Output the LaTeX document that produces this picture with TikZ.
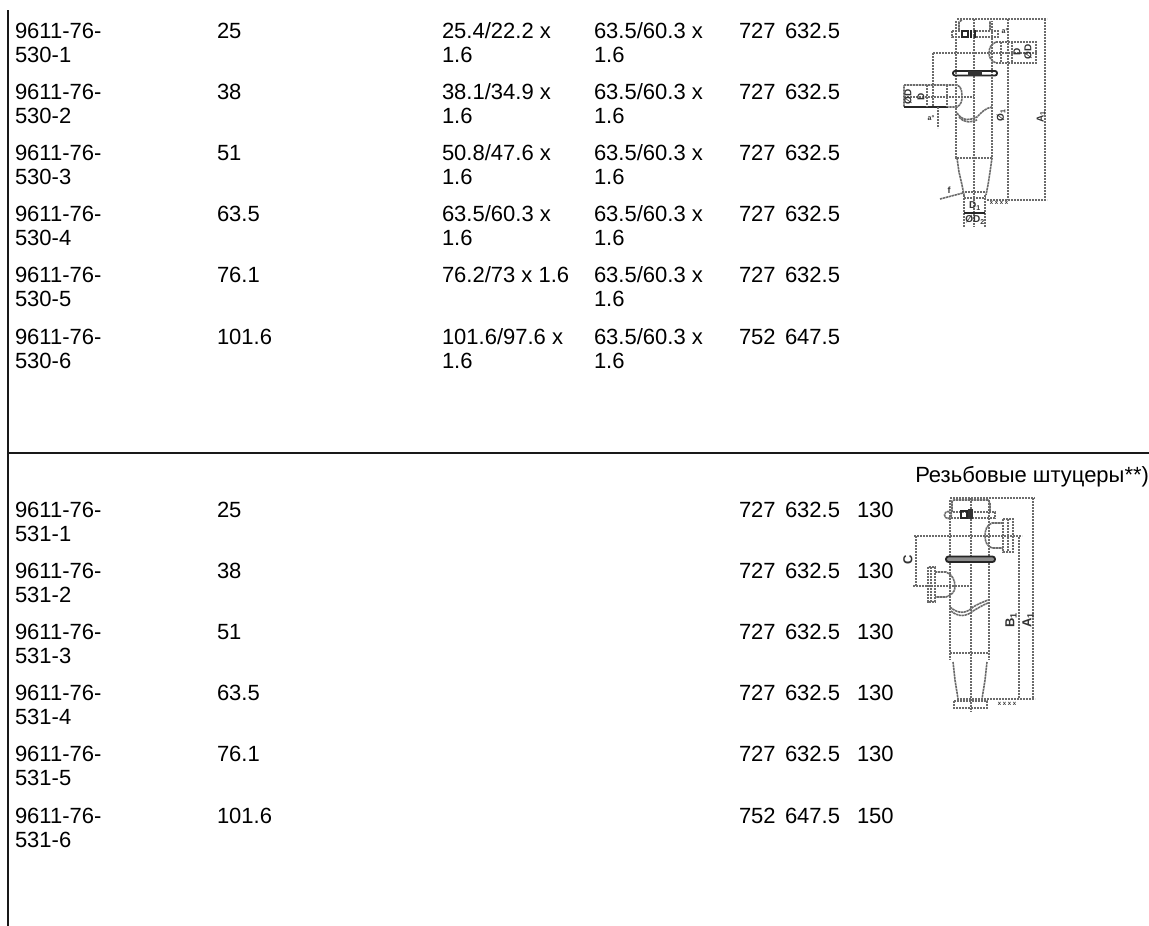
\documentclass[tikz,border=0pt]{standalone}
\usepackage{fontspec}
\setmainfont{Liberation Sans}
\tikzset{
  cell/.style={anchor=base west,inner sep=0pt,outer sep=0pt,font=\fontsize{22}{24}\selectfont},
  rule/.style={draw=black!90,line width=2pt},
  dg/.style={draw=black!58,line width=1.6pt,dash pattern=on 2.4pt off .6pt},
  dk/.style={draw=black!85,line width=1.6pt},
  tiny/.style={inner sep=0pt,outer sep=0pt,text=black!80,font=\fontsize{10}{10}\selectfont\bfseries},
}
\newcommand{\pt}[4]{\node[cell] (#1) at (#2,#3) {#4};}
\begin{document}
\begin{tikzpicture}[x=1pt,y=-1pt]
\useasboundingbox (0,0) rectangle (1149,926);
\coordinate (vt) at (7.5,10);
\coordinate (vb) at (7.5,926);
\coordinate (hl) at (7.5,453);
\coordinate (hr) at (1149,453);
\draw[rule] (vt) -- (vb);
\draw[rule] (hl) -- (hr);

% first table
\foreach \r/\size/\inA/\inB/\a/\b [count=\i] in {
 1/25/25.4{/}22.2 x/1.6/727/632.5,
 2/38/38.1{/}34.9 x/1.6/727/632.5,
 3/51/50.8{/}47.6 x/1.6/727/632.5,
 4/63.5/63.5{/}60.3 x/1.6/727/632.5,
 5/76.1/76.2{/}73 x 1.6//727/632.5,
 6/101.6/101.6{/}97.6 x/1.6/752/647.5}{
  \pgfmathsetmacro{\yy}{38+(\i-1)*61.2}
  \pgfmathsetmacro{\yb}{\yy+24}
  \pt{aa\i}{15}{\yy}{9611-76-}
  \pt{ab\i}{15}{\yb}{530-\r}
  \pt{ac\i}{217}{\yy}{\size}
  \pt{ad\i}{442}{\yy}{\inA}
  \pt{ae\i}{442}{\yb}{\inB}
  \pt{af\i}{594}{\yy}{63.5/60.3 x}
  \pt{ag\i}{594}{\yb}{1.6}
  \pt{ah\i}{739}{\yy}{\a}
  \pt{ai\i}{785}{\yy}{\b}
}
% second table
\foreach \r/\size/\a/\b/\c [count=\i] in {
 1/25/727/632.5/130,
 2/38/727/632.5/130,
 3/51/727/632.5/130,
 4/63.5/727/632.5/130,
 5/76.1/727/632.5/130,
 6/101.6/752/647.5/150}{
  \pgfmathsetmacro{\yy}{517+(\i-1)*61.2}
  \pgfmathsetmacro{\yb}{\yy+24}
  \pt{ba\i}{15}{\yy}{9611-76-}
  \pt{bb\i}{15}{\yb}{531-\r}
  \pt{bc\i}{217}{\yy}{\size}
  \pt{bh\i}{739}{\yy}{\a}
  \pt{bi\i}{785}{\yy}{\b}
  \pt{bj\i}{857}{\yy}{\c}
}
\node[cell,anchor=base east] (thr) at (1149,482) {Резьбовые штуцеры**)};

% drawing 1
\draw[dg] (957,19) -- (1047,19);
\draw[dg] (1045,19) -- (1045,200) (1008,19) -- (1008,200) (987,200) -- (1047,200);
\draw[dg] (956,21) -- (956,158) -- (992,158) -- (992,21);
\draw[dg] (974,19) -- (974,227);
\draw[dg] (959,30) -- (959,22) -- (962,20) (990,30) -- (990,21);
\draw[dg] (952,31) rectangle (998,37);
\draw[dk] (962,31) rectangle (968,37) (971,30) -- (971,38) (975,30) -- (975,38);
\draw[dg] (933,53) -- (1037,53);
\draw[dg] (996,42) to[out=200,in=90] (989,53) to[out=-90,in=160] (996,63);
\draw[dg] (996,42) -- (1036,42) -- (1036,63) -- (996,63);
\draw[dg] (1001,42) -- (1001,63) (1012,42) -- (1012,63);
\draw[dk,line width=1.8pt,rounded corners=2pt] (953,71) rectangle (997,75.5);
\fill[black!80] (968,70.5) rectangle (982,76);
\draw[dg] (904,85) -- (957,85) to[out=-20,in=90] (962,97) to[out=-90,in=30] (957,107) -- (904,107) -- cycle;
\draw[dk,line width=1.3pt] (904,107) -- (948,107);
\draw[dg] (904,97) -- (974,97);
\draw[dg] (927,85) -- (927,107) (947,85) -- (947,107);
\draw[dg] (933,53) -- (933,107);
\draw[dg] (938,107) -- (938,128);
\draw[dg] (957,113) .. controls (963,122) and (971,120) .. (977,117) .. controls (981,113) and (985,108) .. (992,107);
\draw[dg] (959,117) .. controls (965,124) and (972,122) .. (977,120);
\draw[dg] (957,158) -- (959,172) -- (962,185) -- (964,195);
\draw[dg] (992,158) -- (990,172) -- (988,185) -- (986,195);
\draw[dg] (962,192) -- (987,192) (964,198) -- (986,198);
\draw[dg] (964,195) -- (964,227) (985,195) -- (985,227);
\draw[dk,line width=1.3pt] (964,213) -- (985,213);
\draw[dg] (940,199) -- (963,193);
\node[tiny,rotate=90] (d1a) at (1041,117) {A\textsubscript{1}};
\node[tiny,rotate=90] (d1b) at (1001,115) {Ø\textsubscript{1}};
\node[tiny,rotate=90] (d1c) at (1028,52) {ØD};
\node[tiny,rotate=90] (d1d) at (1017,52) {D};
\node[tiny,rotate=90] (d1e) at (921,97) {D};
\node[tiny,rotate=90] (d1f) at (908,97) {ØD};
\node[tiny] (d1g) at (975,206) {D\textsubscript{1}};
\node[tiny] (d1h) at (975,220) {ØD\textsubscript{2}};
\node[tiny,font=\fontsize{6}{6}\selectfont\bfseries] (d1i) at (999,203) {x x x x};
\node[tiny,font=\fontsize{7}{7}\selectfont\bfseries] (d1j) at (931,118) {a°};
\node[tiny,font=\fontsize{9}{9}\selectfont\bfseries] (d1k) at (949,190) {f};
\node[tiny,font=\fontsize{7}{7}\selectfont\bfseries] (d1l) at (1005,31) {a°};

% drawing 2
\draw[dg] (950,498) -- (1035,498) (1033,498) -- (1033,699) (1019,537) -- (1019,699) (957,699) -- (1035,699);
\draw[dg] (950,500) -- (950,660) (989,500) -- (989,660) (950,653) -- (989,653);
\draw[dg] (971,498) -- (971,712);
\draw[dg] (952,512) -- (952,501) -- (954,500) -- (988,500) -- (990,503) -- (990,512);
\draw[dg] (948,515) circle (3.5);
\draw[dg] (951,512) rectangle (995,518);
\draw[dk] (961,511) rectangle (967,518);
\fill[black!80] (968,509) rectangle (973,519);
\draw[dg] (914,536) -- (1022,536);
\draw[dg] (1003,523) -- (992,523) to[out=200,in=90] (985,536) to[out=-90,in=160] (992,548) -- (1003,548);
\draw[dg] (1003,519) rectangle (1013,552) (1008,519) -- (1008,552);
\draw[dk,line width=1.8pt,rounded corners=2.5pt,fill=black!45] (946,556.5) rectangle (995,562);
\draw[dg] (916,536) -- (916,586) (913,586) -- (971,586);
\draw[dg] (928,567) rectangle (935,602) (931,567) -- (931,602);
\draw[dg] (935,572) -- (946,572) to[out=-20,in=90] (955,587) to[out=-90,in=20] (946,597) -- (935,597);
\draw[dg] (950,607) .. controls (958,614) and (966,614) .. (973,607) .. controls (978,604) and (983,602) .. (988,600);
\draw[dg] (951,611) .. controls (958,617) and (966,617) .. (973,611) .. controls (978,608) and (983,605) .. (988,603);
\draw[dg] (953,662) -- (955,680) -- (958,699) (987,662) -- (985,680) -- (982,699);
\draw[dg] (954,701) rectangle (987,708);
\node[tiny,rotate=90,font=\fontsize{13}{13}\selectfont\bfseries] (d2a) at (908,560) {C};
\node[tiny,rotate=90,font=\fontsize{13}{13}\selectfont\bfseries] (d2b) at (1011,620) {B\textsubscript{1}};
\node[tiny,rotate=90,font=\fontsize{13}{13}\selectfont\bfseries] (d2c) at (1028,620) {A\textsubscript{1}};
\node[tiny,font=\fontsize{6}{6}\selectfont\bfseries] (d2d) at (1007,704) {x x x x};
\end{tikzpicture}
\end{document}
